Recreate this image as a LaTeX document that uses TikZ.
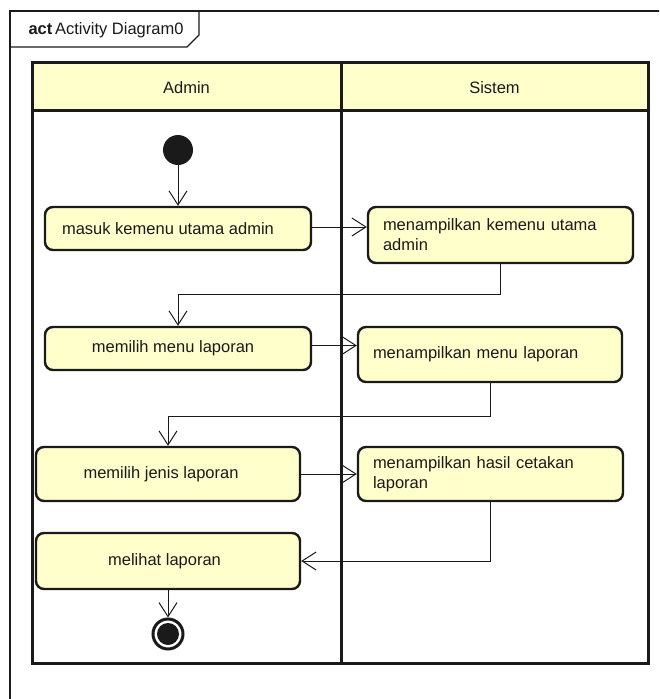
\documentclass[tikz,border=0pt]{standalone}
\usepackage{fontspec}
\setmainfont{Liberation Sans}
\usetikzlibrary{arrows.meta,calc}
\definecolor{actfill}{HTML}{FFFFCC}
\definecolor{ink}{HTML}{1A1A1A}
\begin{document}
\begin{tikzpicture}[x=1pt,y=-1pt,
  txt/.style={font=\fontsize{16.5}{20}\selectfont, text=ink},
  actbox/.style={txt, draw=ink, line width=2.4pt, fill=actfill, rounded corners=8pt, inner sep=0pt},
  lbox/.style={actbox, align=center},
  rbox/.style={actbox, align=left, inner xsep=15pt},
  flow/.style={draw=ink, line width=1pt, -{Straight Barb[length=14pt,width=18pt]}},
  lane/.style={draw=ink, line width=3pt},
  frame/.style={draw=ink, line width=1.2pt}]
\useasboundingbox (0,0) rectangle (659,699);
\clip (0,0) rectangle (659,699);
\fill[white] (0,0) rectangle (659,699);

% diagram frame and its name tab
\draw[frame] (10,720) -- (10,11) -- (680,11);
\draw[frame] (10,47) -- (187,47) -- (199,35) -- (199,11);
\node[txt, anchor=west] (title) at (25,30) {\textbf{act}\,Activity Diagram0};

% swimlanes
\fill[actfill] (32,62) rectangle (648,110);
\draw[lane] (32,62) rectangle (648,663);
\draw[lane] (32,110) -- (648,110);
\draw[lane] (341,62) -- (341,663);
\node[txt] (hadmin) at (186.5,88) {Admin};
\node[txt] (hsistem) at (494.5,88) {Sistem};

% initial and final nodes
\node[circle, fill=ink, minimum size=30pt, inner sep=0pt] (start) at (178,150) {};
\node[circle, draw=ink, line width=3pt, fill=white, minimum size=30pt, inner sep=0pt] (stop) at (168,634) {};
\fill[ink] (stop.center) circle[radius=11pt];

% actions
\node[lbox, minimum width=266pt, minimum height=43pt] (a1) at (178,228.5) {\hspace*{-20pt}masuk kemenu utama admin};
\node[rbox, text width=235pt, minimum height=56pt] (s1) at (500.5,235) {menampilkan kemenu utama\\admin};
\node[lbox, minimum width=266pt, minimum height=43pt] (a2) at (178,348.5) {\hspace*{-10pt}memilih menu laporan};
\node[rbox, text width=234pt, minimum height=55pt] (s2) at (490,354.5) {menampilkan menu laporan};
\node[lbox, minimum width=264pt, minimum height=54pt] (a3) at (168,474) {\hspace*{-14pt}memilih jenis laporan};
\node[rbox, text width=235pt, minimum height=54pt] (s3) at (490.5,474) {menampilkan hasil cetakan\\laporan};
\node[lbox, minimum width=264pt, minimum height=56pt] (a4) at (168,561) {\hspace*{-7pt}melihat laporan};

% control flows
\draw[flow] (start) -- (a1.north);
\draw[flow] ([yshift=1.5pt]a1.east) -- ([yshift=1.5pt]a1.east -| s1.west);
\draw[flow] (s1.south) -- ++(0,30) -| (a2.north);
\draw[flow] ([yshift=3pt]a2.east) -- ([yshift=3pt]a2.east -| s2.west);
\draw[flow] (s2.south) -- ++(0,33) -| (a3.north);
\draw[flow] (a3.east) -- (s3.west);
\draw[flow] (s3.south) |- (a4.east);
\draw[flow] (a4.south) -- (stop.north);
\end{tikzpicture}
\end{document}
